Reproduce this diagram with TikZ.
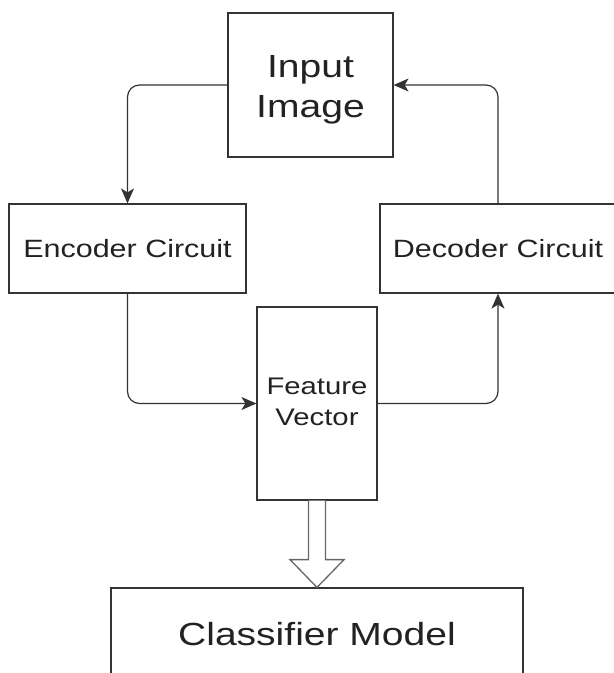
\documentclass[tikz,border=0pt]{standalone}
\usepackage{fontspec}
\setmainfont{Liberation Sans}
\usetikzlibrary{arrows.meta,calc}
\definecolor{boxline}{HTML}{333333}
\definecolor{txt}{HTML}{222222}
\definecolor{bigarrow}{HTML}{666666}
\newcommand{\wtext}[1]{\scalebox{1.22}[1]{#1}}
\begin{document}
\begin{tikzpicture}[x=1pt,y=-1pt,
  box/.style={draw=boxline,line width=1.2pt,fill=white,inner sep=0pt,text=txt},
  conn/.style={draw=boxline,line width=1.2pt,-{Stealth[length=15pt,width=13pt,inset=4pt]},rounded corners=12pt},
  blockarrow/.style={draw=bigarrow,line width=1.3pt,fill=white,line join=miter}]
\useasboundingbox (0,0) rectangle (614,673);
\node[box,minimum width=165pt,minimum height=144pt] (ii) at (310.5,85)
  {\wtext{\fontsize{32}{40}\selectfont\begin{tabular}{@{}c@{}}\rule{0pt}{36pt}Input\\Image\end{tabular}}};
\node[box,minimum width=237pt,minimum height=89pt] (enc) at (127.5,248.5)
  {\wtext{\fontsize{25}{30}\selectfont Encoder Circuit}};
\node[box,minimum width=236pt,minimum height=89pt] (dec) at (498,248.5)
  {\wtext{\fontsize{25}{30}\selectfont Decoder Circuit}};
\node[box,minimum width=120pt,minimum height=193pt] (fv) at (317,403.5)
  {\wtext{\fontsize{24}{31}\selectfont\begin{tabular}{@{}c@{}}Feature\\Vector\end{tabular}}};
\node[box,minimum width=412pt,minimum height=92pt] (cm) at (317,634)
  {\wtext{\fontsize{32}{40}\selectfont Classifier Model}};
\draw[conn] (ii.west) -| (enc.north);
\draw[conn] (enc.south) |- (fv.west);
\draw[conn] (fv.east) -| (dec.south);
\draw[conn] (dec.north) |- (ii.east);
\draw[blockarrow] ($(fv.south)+(-8.5,0)$) -- ($(fv.south)+(-8.5,59)$) -- ($(fv.south)+(-27,59)$)
  -- (cm.north) -- ($(fv.south)+(27,59)$) -- ($(fv.south)+(8.5,59)$) -- ($(fv.south)+(8.5,0)$);
\end{tikzpicture}
\end{document}
